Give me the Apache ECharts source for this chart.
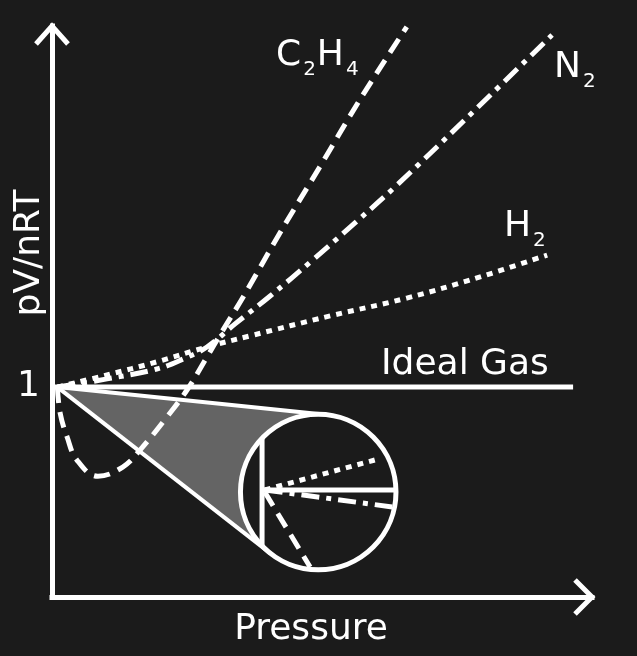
<!DOCTYPE html>
<html>
<head>
<meta charset="utf-8">
<script src="https://cdn.jsdelivr.net/npm/echarts@6/dist/echarts.min.js"></script>
<style>
html,body{margin:0;padding:0;background:#1b1b1b;}
#chart{width:637px;height:656px;}
</style>
</head>
<body>
<div id="chart"></div>
<script>
// ---------- data ----------
const xAxisName = 'Pressure';
const yAxisName = 'pV/nRT';
const yTickLabels = [1];

const idealX = [0, 9.65];
const idealY = [1, 1];

const h2X = [0.1, 1.02, 1.94, 2.87, 3.67, 5.15, 6.57, 7.93, 9.17];
const h2Y = [1.0, 1.058, 1.120, 1.191, 1.244, 1.339, 1.424, 1.525, 1.629];

const n2X = [0.1, 1.02, 1.94, 2.43, 2.87, 3.39, 4.04, 4.83, 5.61, 6.39, 7.89, 9.26];
const n2Y = [1.0, 1.039, 1.086, 1.134, 1.191, 1.301, 1.434, 1.606, 1.782, 1.963, 2.334, 2.677];

const c2h4X = [0.1, 0.15, 0.28, 0.46, 0.85, 1.31, 1.63, 2.13, 2.50, 2.87, 3.11, 3.54, 4.22, 4.96, 5.70, 6.57];
const c2h4Y = [1.0, 0.877, 0.762, 0.653, 0.575, 0.619, 0.700, 0.858, 0.986, 1.143, 1.248, 1.429, 1.734, 2.049, 2.368, 2.716];

// magnified inset (zoom of the region near pV/nRT = 1)
const insetApex = [0.1, 1.0];
const insetCenter = [4.93, 0.50];
const insetRadiusX = 1.44;      // radius in x-axis units
const insetChordX = 3.89;

const insetIdealX = [3.89, 6.39];
const insetIdealY = [0.51, 0.51];
const insetH2X = [3.94, 6.04];
const insetH2Y = [0.51, 0.657];
const insetN2X = [3.94, 6.30];
const insetN2Y = [0.51, 0.429];
const insetC2H4X = [3.94, 4.78];
const insetC2H4Y = [0.50, 0.143];

// gas labels: [main, subscript, main, subscript ...]
const labelC2H4 = ['C', '2', 'H', '4'];
const labelN2 = ['N', '2'];
const labelH2 = ['H', '2'];
const labelIdeal = 'Ideal Gas';

// ---------- chart ----------
const BG = '#1b1b1b';
const FG = '#ffffff';
const FONT = '"DejaVu Sans", sans-serif';
const zip = (xs, ys) => xs.map((x, i) => [x, ys[i]]);

const chart = echarts.init(document.getElementById('chart'), null, {renderer: 'canvas'});

function lineSeries(name, xs, ys, dash, z, smooth) {
  return {
    type: 'line', name: name, data: zip(xs, ys), symbol: 'none', z: z,
    smooth: smooth || false, clip: false, silent: true,
    lineStyle: {color: FG, width: 5, type: dash, cap: 'butt', join: 'round'}
  };
}

function richLabel(parts, x, y) {
  const txt = parts.map((p, i) => (i % 2 === 0 ? '{m|' + p + '}' : '{s|' + p + '}')).join('');
  return {
    type: 'text', x: x, y: y, z: 10,
    style: {
      text: txt, fill: FG, font: '36px ' + FONT,
      align: 'left', verticalAlign: 'middle', textAlign: 'left', textVerticalAlign: 'middle',
      rich: {
        m: {fontSize: 36, fontFamily: FONT, fill: FG, color: FG, verticalAlign: 'top', padding: [0, 0, 6, 0]},
        s: {fontSize: 20, fontFamily: FONT, fill: FG, color: FG, verticalAlign: 'bottom', padding: [0, 1, 0, 2]}
      }
    }
  };
}

function textEl(text, x, y, rot, align) {
  return {
    type: 'text', x: x, y: y, z: 10, rotation: rot || 0,
    style: {text: text, fill: FG, font: '36px ' + FONT,
      align: align || 'left', verticalAlign: 'middle', textAlign: align || 'left', textVerticalAlign: 'middle'}
  };
}

const option = {
  backgroundColor: BG,
  animation: false,
  grid: {left: 52, right: 45, top: 26, bottom: 59, containLabel: false, outerBoundsMode: 'none'},
  xAxis: {
    type: 'value', min: 0, max: 10,
    name: xAxisName, nameLocation: 'middle', nameGap: 15,
    nameTextStyle: {color: FG, fontSize: 36, fontFamily: FONT, padding: [0, 22, 0, 0]},
    axisLine: {show: true, lineStyle: {color: FG, width: 5, cap: 'square'}},
    axisTick: {show: false}, axisLabel: {show: false}, splitLine: {show: false}
  },
  yAxis: {
    type: 'value', min: 0, max: 2.72, interval: 1,
    axisLine: {show: true, lineStyle: {color: FG, width: 5, cap: 'square'}},
    axisTick: {show: false},
    axisLabel: {show: true, margin: 12, color: FG, fontSize: 36, fontFamily: FONT,
      showMaxLabel: false, showMinLabel: false,
      formatter: v => (yTickLabels.indexOf(v) >= 0 ? String(v) : '')},
    splitLine: {show: false}
  },
  graphic: {elements: [
    textEl(yAxisName, 30, 253, Math.PI / 2, 'center'),
    richLabel(labelC2H4, 276, 59),
    richLabel(labelN2, 554, 71),
    richLabel(labelH2, 504, 230),
    textEl(labelIdeal, 381, 365)
  ]},
  series: [
    {
      type: 'custom', name: 'inset', z: 1, clip: false, silent: true,
      data: [[insetCenter[0], insetCenter[1]]],
      renderItem: function (params, api) {
        const A = api.coord(insetApex);
        const C = api.coord(insetCenter);
        const r = api.size([insetRadiusX, 0])[0];
        const dx = C[0] - A[0], dy = C[1] - A[1];
        const d = Math.hypot(dx, dy);
        const base = Math.atan2(dy, dx);
        const alpha = Math.asin(r / d);
        const L = Math.sqrt(d * d - r * r);
        const T1 = [A[0] + L * Math.cos(base - alpha), A[1] + L * Math.sin(base - alpha)];
        const T2 = [A[0] + L * Math.cos(base + alpha), A[1] + L * Math.sin(base + alpha)];
        const xc = api.coord([insetChordX, 0])[0];
        const h = Math.sqrt(Math.max(0, r * r - (xc - C[0]) * (xc - C[0])));
        return {
          type: 'group',
          children: [
            {type: 'polygon', shape: {points: [A, T1, T2]}, style: {fill: '#646464', stroke: null}},
            {type: 'line', shape: {x1: A[0], y1: A[1], x2: T1[0], y2: T1[1]}, style: {stroke: FG, lineWidth: 4}},
            {type: 'line', shape: {x1: A[0], y1: A[1], x2: T2[0], y2: T2[1]}, style: {stroke: FG, lineWidth: 4}},
            {type: 'circle', shape: {cx: C[0], cy: C[1], r: r}, style: {fill: BG, stroke: FG, lineWidth: 5}},
            {type: 'line', shape: {x1: xc, y1: C[1] - h, x2: xc, y2: C[1] + h}, style: {stroke: FG, lineWidth: 5}}
          ]
        };
      }
    },
    lineSeries('Ideal Gas', idealX, idealY, 'solid', 3, false),
    lineSeries('H2', h2X, h2Y, [6, 6], 3, 0.4),
    lineSeries('N2', n2X, n2Y, [18, 7, 5, 7], 3, 0.4),
    lineSeries('C2H4', c2h4X, c2h4Y, [16, 9], 3, 0.4),
    lineSeries('inset Ideal Gas', insetIdealX, insetIdealY, 'solid', 4, false),
    lineSeries('inset H2', insetH2X, insetH2Y, [6, 6], 4, false),
    lineSeries('inset N2', insetN2X, insetN2Y, [18, 7, 5, 7], 4, false),
    lineSeries('inset C2H4', insetC2H4X, insetC2H4Y, [16, 9], 4, false),
    {
      type: 'custom', name: 'axis arrows', z: 5, clip: false, silent: true,
      data: [[0, 0]],
      renderItem: function (params) {
        const cs = params.coordSys;
        const L = cs.x, T = cs.y, R = cs.x + cs.width, B = cs.y + cs.height;
        return {
          type: 'group',
          children: [
            {type: 'polyline', shape: {points: [[L - 16, T + 18], [L, T], [L + 16, T + 18]]},
              style: {stroke: FG, lineWidth: 5, fill: null, lineJoin: 'miter', lineCap: 'butt'}},
            {type: 'polyline', shape: {points: [[R - 17, B - 17], [R, B], [R - 17, B + 17]]},
              style: {stroke: FG, lineWidth: 5, fill: null, lineJoin: 'miter', lineCap: 'butt'}}
          ]
        };
      }
    }
  ]
};
chart.setOption(option);
</script>
</body>
</html>
